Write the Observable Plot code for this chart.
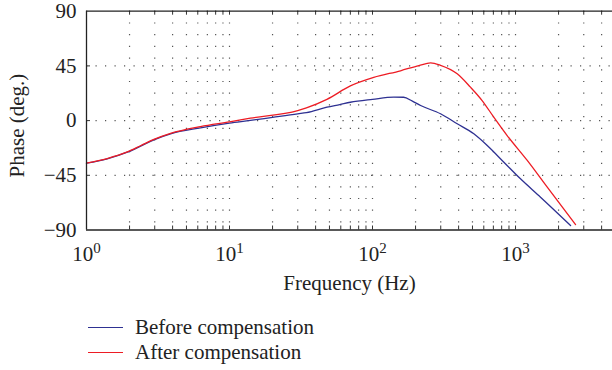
<!DOCTYPE html>
<html>
<head>
<meta charset="utf-8">
<script src="https://cdn.jsdelivr.net/npm/d3@7"></script>
<script src="https://cdn.jsdelivr.net/npm/@observablehq/plot@0.6"></script>
<style>
  html, body { margin: 0; padding: 0; background: #fff; }
  #chart svg { display: block; }
  .legend { font-family: "Liberation Serif", serif; font-size: 21px; color: #222; margin-top: 9.5px; }
  .legend .row { display: flex; align-items: center; height: 25px; }
  .legend .sw { width: 35px; height: 0; margin-left: 88px; margin-right: 12px; border-top: 1.3px solid; }
</style>
</head>
<body>
<div id="chart"></div>
<script>
// ---- data ----
const beforeFreq  = [1, 1.395, 1.93, 2.39, 2.96, 3.87, 6.27, 10, 14, 20, 30, 34.5, 48, 59, 70, 100, 141, 165, 190, 217, 299, 391, 511, 634, 829, 1083, 1496, 2426];
const beforePhase = [-35, -31.4, -26, -21, -15.8, -10.9, -6, -2.1, 0.1, 2.7, 5.6, 6.5, 11, 13.2, 15.1, 17.5, 19.3, 19.2, 16, 12.4, 5.6, -2.6, -10.9, -20.5, -34.2, -47.9, -63, -86.3];
const afterFreq   = [1, 1.395, 1.93, 2.39, 2.96, 3.87, 6.27, 10, 14, 30, 34.5, 48, 70, 102, 157, 211, 255, 299, 391, 484, 584, 705, 874, 1208, 1667, 2630];
const afterPhase  = [-35, -31.2, -25.8, -20.7, -15.5, -10.5, -4.9, -1, 2, 8.3, 10.5, 17.5, 28.5, 35.5, 41, 45.3, 47.5, 45.5, 38.5, 27.5, 16.5, 2.8, -12.3, -32.8, -54.8, -85.5];
const seriesNames = ["Before compensation", "After compensation"];
const seriesColors = ["#2e3192", "#ed1c24"];
const xDomain = [1, 4766];
const yDomain = [-90, 90];
const xMajorTicks = [1, 10, 100, 1000];
const yTicks = [90, 45, 0, -45, -90];
const yGrid = [45, 0, -45];
const xGridMult = [1, 2, 3, 4, 5, 6, 7, 8, 9];
const xDecades = [1, 10, 100, 1000];

// build tables
const before = beforeFreq.map((f, i) => ({f, p: beforePhase[i]}));
const after = afterFreq.map((f, i) => ({f, p: afterPhase[i]}));
const xGrid = xDecades.flatMap(d => xGridMult.map(m => d * m)).filter(v => v > 1 && v <= xDomain[1]);
const xMinor = xGrid;

const W = 612, H = 305;
const mL = 86, mT = 10.7, mB = H - 229.5, mR = 0;
const frameH = H - mT - mB, frameW = W - mL - mR;
const FONT = "Liberation Serif";
const FS = 21;
const dotColor = "#555";

const svg = Plot.plot({
  width: W, height: H,
  marginLeft: mL, marginRight: mR, marginTop: mT, marginBottom: mB,
  x: {type: "log", domain: xDomain, axis: null},
  y: {domain: yDomain, axis: null},
  style: {fontFamily: FONT, fontSize: FS + "px", background: "#fff", color: "#222", overflow: "visible"},
  marks: [
    // dotted grid
    Plot.ruleX(xGrid, {stroke: dotColor, strokeWidth: 1.2, strokeDasharray: "1.2,10.5"}),
    Plot.ruleY(yGrid, {stroke: dotColor, strokeWidth: 1.2, strokeDasharray: "1.2,8.3"}),
    // inward ticks (bottom, top, left)
    Plot.tickX(xMinor, {stroke: "#333", insetTop: frameH - 4}),
    Plot.tickX(xMinor, {stroke: "#333", insetBottom: frameH - 4}),
    Plot.tickY(yGrid, {stroke: "#333", insetRight: frameW - 4}),
    // curves
    Plot.line(before, {x: "f", y: "p", stroke: seriesColors[0], strokeWidth: 1.3, curve: "monotone-x"}),
    Plot.line(after, {x: "f", y: "p", stroke: seriesColors[1], strokeWidth: 1.3, curve: "monotone-x"}),
    // frame (left, top, bottom)
    Plot.ruleY(yDomain, {stroke: "#222", strokeWidth: 1.3}),
    Plot.ruleX([xDomain[0]], {stroke: "#222", strokeWidth: 1.3}),
    // y tick labels
    Plot.axisY(yTicks, {tickSize: 0, tickPadding: 10, fontSize: FS, fill: "#222", label: null,
      tickFormat: d => d < 0 ? "\u2212" + (-d) : String(d)}),
    // x tick labels
    Plot.text(xMajorTicks, {x: d => d, frameAnchor: "bottom", dy: 31, fontSize: FS, fill: "#222",
      text: d => "10^" + Math.round(Math.log10(d))}),
    // axis titles
    Plot.text(["Frequency (Hz)"], {frameAnchor: "bottom", dy: 60, fontSize: FS, fill: "#222"}),
    Plot.text(["Phase (deg.)"], {frameAnchor: "left", textAnchor: "middle", dx: -69, dy: 5, rotate: -90, fontSize: FS, fill: "#222"})
  ]
});

// superscripts for the decade labels
svg.querySelectorAll("text").forEach(t => {
  const m = /^10\^(\d+)$/.exec(t.textContent);
  if (!m) return;
  while (t.firstChild) t.removeChild(t.firstChild);
  const ns = "http://www.w3.org/2000/svg";
  const a = document.createElementNS(ns, "tspan");
  a.textContent = "10";
  const b = document.createElementNS(ns, "tspan");
  b.textContent = m[1];
  b.setAttribute("dy", "-8");
  b.setAttribute("font-size", "15");
  t.appendChild(a); t.appendChild(b);
});

document.getElementById("chart").appendChild(svg);

// legend below the chart
const legend = document.createElement("div");
legend.className = "legend";
seriesNames.forEach((name, i) => {
  const row = document.createElement("div");
  row.className = "row";
  const sw = document.createElement("span");
  sw.className = "sw";
  sw.style.borderColor = seriesColors[i];
  const label = document.createElement("span");
  label.textContent = name;
  row.appendChild(sw); row.appendChild(label);
  legend.appendChild(row);
});
document.getElementById("chart").appendChild(legend);
</script>
</body>
</html>
